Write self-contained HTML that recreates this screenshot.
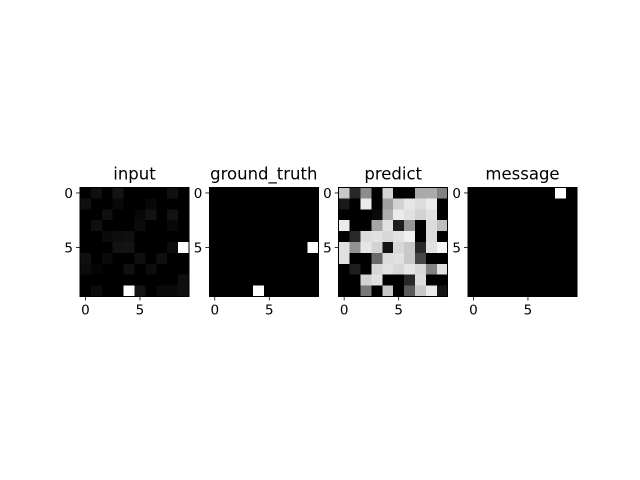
<!DOCTYPE html>
<html><head><meta charset="utf-8"><style>
body{margin:0;background:#fff}
svg{display:block}
rect{shape-rendering:crispEdges}
text{font-family:"DejaVu Sans","Liberation Sans",sans-serif;fill:#000}
</style></head><body>
<svg id="fig" width="640" height="480" viewBox="0 0 640 480" xmlns="http://www.w3.org/2000/svg"></svg>
<script>
const titles = ["input","ground_truth","predict","message"];
const inputGrid = [
[0,15,0,20,0,0,0,0,15,0],
[15,0,0,8,0,0,8,0,0,0],
[0,0,15,0,0,8,18,0,18,0],
[0,15,0,0,0,10,0,0,8,0],
[0,0,10,12,15,0,0,0,0,0],
[0,0,0,18,20,0,0,0,12,255],
[15,0,10,0,0,15,0,15,0,0],
[12,5,0,0,15,0,12,0,0,0],
[0,0,0,0,0,0,0,0,0,15],
[0,12,0,0,255,20,0,10,10,15]];
const truthGrid = [
[0,0,0,0,0,0,0,0,0,0],[0,0,0,0,0,0,0,0,0,0],[0,0,0,0,0,0,0,0,0,0],
[0,0,0,0,0,0,0,0,0,0],[0,0,0,0,0,0,0,0,0,0],[0,0,0,0,0,0,0,0,0,255],
[0,0,0,0,0,0,0,0,0,0],[0,0,0,0,0,0,0,0,0,0],[0,0,0,0,0,0,0,0,0,0],
[0,0,0,0,255,0,0,0,0,0]];
const predictGrid = [
[200,40,140,0,210,0,0,170,170,130],
[25,0,235,0,160,210,230,220,235,0],
[0,0,0,10,175,235,225,210,225,0],
[235,0,0,165,225,30,150,0,220,190],
[0,40,220,225,215,225,240,0,220,0],
[225,145,230,210,20,215,200,40,225,245],
[225,0,0,105,220,225,200,70,0,0],
[0,30,0,215,225,215,230,215,130,225],
[0,0,210,225,0,0,40,220,0,0],
[0,0,120,0,200,0,90,200,235,20]];
const messageGrid = [
[0,0,0,0,0,0,0,0,255,0],[0,0,0,0,0,0,0,0,0,0],[0,0,0,0,0,0,0,0,0,0],
[0,0,0,0,0,0,0,0,0,0],[0,0,0,0,0,0,0,0,0,0],[0,0,0,0,0,0,0,0,0,0],
[0,0,0,0,0,0,0,0,0,0],[0,0,0,0,0,0,0,0,0,0],[0,0,0,0,0,0,0,0,0,0],
[0,0,0,0,0,0,0,0,0,0]];
const tickValues = [0,5];

const grids=[inputGrid,truthGrid,predictGrid,messageGrid];
const NS="http://www.w3.org/2000/svg";
const svg=document.getElementById('fig');
const lefts=[80,209.3,338.7,468], plotTop=187.5, size=109;
function mk(tag,attrs,parent){const e=document.createElementNS(NS,tag);for(const k in attrs)e.setAttribute(k,attrs[k]);(parent||svg).appendChild(e);return e;}
grids.forEach((g,p)=>{
  const x0=lefts[p];
  const n=g.length, c=size/n;
  const sx=v=>x0+(v+0.5)*c, sy=v=>plotTop+(v+0.5)*c;
  const grp=mk('g',{});
  
  
  g.forEach((row,r)=>row.forEach((v,col)=>{
    const rc=mk('rect',{x:sx(col)-c/2,y:sy(r)-c/2,width:c+0.5,height:c+0.5,fill:`rgb(${v},${v},${v})`},grp);
    
    
  }));
  const fr=mk('rect',{x:x0,y:plotTop,width:size,height:size,fill:'none',stroke:'#000','stroke-width':1},grp);
  
  
  const t=mk('text',{x:x0+size/2,y:plotTop-8,'text-anchor':'middle','font-size':16.5},grp);
  t.textContent=titles[p];
  
  
  tickValues.forEach(tv=>{
    mk('line',{x1:sx(tv),x2:sx(tv),y1:plotTop+size,y2:plotTop+size+4,stroke:'#000','stroke-width':0.8},grp);
    const xl=mk('text',{x:sx(tv),y:plotTop+size+18,'text-anchor':'middle','font-size':13.5},grp);
    xl.textContent=tv;
    
    
    mk('line',{x1:x0-4,x2:x0,y1:sy(tv),y2:sy(tv),stroke:'#000','stroke-width':0.8},grp);
    const yl=mk('text',{x:x0-7,y:sy(tv)+5,'text-anchor':'end','font-size':13.5},grp);
    yl.textContent=tv;
    
    
  });
});
</script>
</body></html>
